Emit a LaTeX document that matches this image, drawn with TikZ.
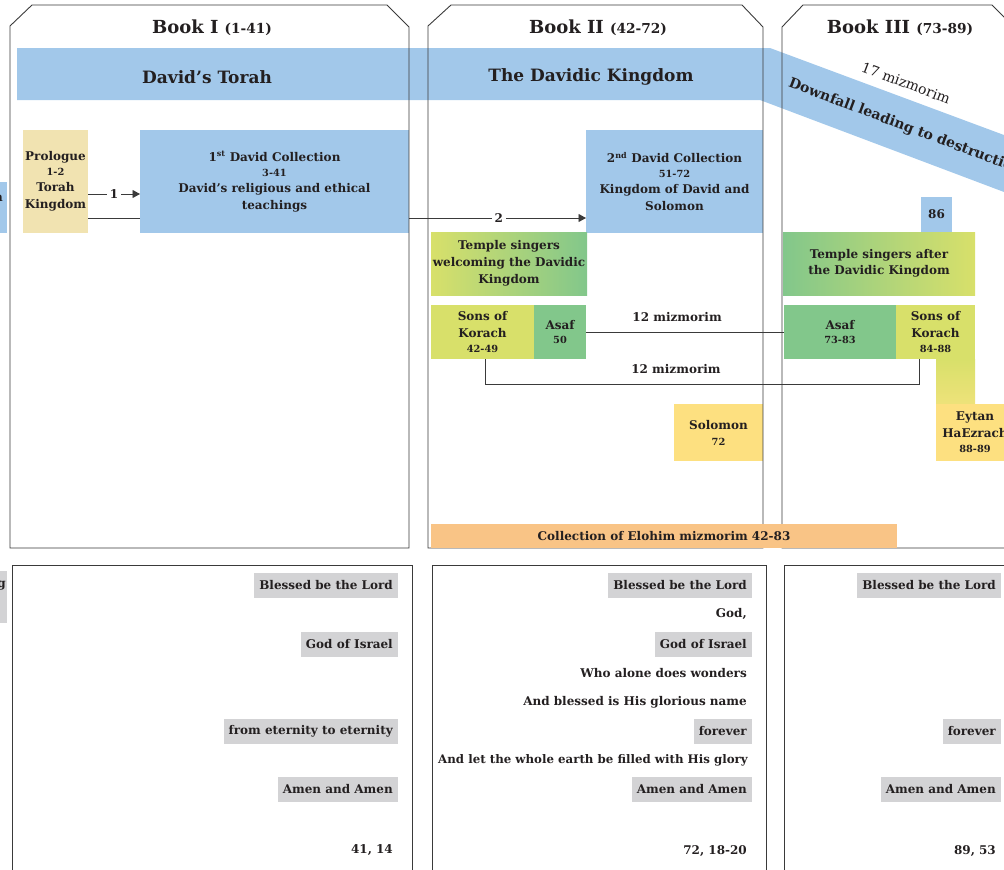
\documentclass[tikz,border=0pt]{standalone}
\usepackage{fontspec}
\setmainfont{DejaVu Serif}
\usetikzlibrary{arrows.meta}
\definecolor{ink}{HTML}{231F20}
\definecolor{cblue}{HTML}{A2C8EA}
\definecolor{ctan}{HTML}{F1E3B1}
\definecolor{cyg}{HTML}{D8E06A}
\definecolor{cyg2}{HTML}{EEE27A}
\definecolor{cgreen}{HTML}{82C78B}
\definecolor{cyellow}{HTML}{FDE080}
\definecolor{corange}{HTML}{F9C486}
\definecolor{cgray}{HTML}{D3D3D5}
\definecolor{cline}{HTML}{3A3A3A}
\pgfdeclarelayer{background}
\pgfsetlayers{background,main}
\newcommand{\bodyfont}{\bfseries\fontsize{12}{17}\selectfont}
\newcommand{\nums}[1]{{\fontsize{9.8}{12}\selectfont #1}}
\newcommand{\titnum}[1]{{\fontsize{13.7}{16}\selectfont #1}}
\begin{document}
\begin{tikzpicture}[x=1pt,y=-1pt,
  box/.style={inner sep=0pt,outer sep=0pt,align=center,text=ink,font=\bodyfont,anchor=north west},
  panel/.style={draw=cline,line width=0.9pt},
  conn/.style={draw=cline,line width=0.8pt},
  arr/.style={conn,-{Triangle[length=7.5pt,width=8pt]}},
  lbl/.style={text=ink,font=\bodyfont,inner sep=0pt},
  gbox/.style={fill=cgray,inner xsep=5pt,inner ysep=0pt,minimum height=25pt,anchor=east,text=ink,font=\bodyfont},
  ptext/.style={inner xsep=5pt,inner ysep=0pt,anchor=east,text=ink,font=\bodyfont},
  title/.style={text=ink,font=\bfseries\fontsize{18}{20}\selectfont},
  bandtxt/.style={text=ink,font=\bfseries\fontsize{17}{20}\selectfont}
]
\useasboundingbox (0,0) rectangle (1004,870);
\clip (0,0) rectangle (1004,870);

% blue band
\fill[cblue] (17,48) -- (770,48) -- (1104,172.2) -- (1104,229.7) -- (760,100) -- (17,100) -- cycle;
\node[bandtxt] (dtor) at (207,77) {David’s Torah};
\node[bandtxt] (dking) at (591,77) {The Davidic Kingdom};
\node[text=ink,font=\bfseries\fontsize{14}{16}\selectfont,rotate=-20.7,anchor=west,inner sep=0pt] (down) at (789,83) {Downfall leading to destruction};
\node[text=ink,font=\fontsize{14}{16}\selectfont,rotate=-20.7,inner sep=0pt] (m17) at (906,83) {17 mizmorim};

% left fragments
\node[box,fill=cblue,anchor=north east,minimum width=50pt,minimum height=51pt] (lfb) at (7,182) {};
\node[lbl,anchor=east] (lfbt) at (3,197) {h};
\node[box,fill=cgray,anchor=north east,minimum width=50pt,minimum height=52pt] (lfg) at (7,571) {};
\node[lbl,anchor=east] (lfgt) at (6,586) {g};

% boxes
\node[box,fill=ctan,minimum width=65pt,minimum height=103pt] (pro) at (23,130)
  {Prologue\\[-2pt]\nums{1-2}\\[-1pt]Torah\\Kingdom};
\node[box,fill=cblue,minimum width=269pt,minimum height=103pt] (dc1) at (140,130)
  {1\textsuperscript{st} David Collection\\[-2pt]\nums{3-41}\\[-1pt]David’s religious and ethical\\teachings};
\node[box,fill=cblue,minimum width=177pt,minimum height=103pt] (dc2) at (586,130)
  {2\textsuperscript{nd} David Collection\\[-2pt]\nums{51-72}\\[-1pt]Kingdom of David and\\Solomon};
\node[box,left color=cyg,right color=cgreen,minimum width=156pt,minimum height=63pt] (tsw) at (431,232)
  {Temple singers\\welcoming the Davidic\\Kingdom};
\node[box,fill=cyg,minimum width=103pt,minimum height=54pt] (sok2) at (431,305)
  {Sons of\\Korach\\[-2pt]\nums{42-49}};
\node[box,fill=cgreen,minimum width=52pt,minimum height=54pt] (asaf2) at (534,305)
  {Asaf\\[-3pt]\nums{50}};
\node[box,fill=cyellow,minimum width=89pt,minimum height=57pt] (sol) at (674,404)
  {Solomon\\[-1pt]\nums{72}};
\node[box,fill=cblue,minimum width=31pt,minimum height=35pt] (n86) at (921,197) {86};
\node[box,left color=cgreen,right color=cyg,minimum width=192pt,minimum height=63pt] (tsa) at (783,232)
  {Temple singers after\\[-1pt]the Davidic Kingdom};
\node[box,fill=cgreen,minimum width=112pt,minimum height=54pt] (asaf3) at (784,305)
  {Asaf\\[-3pt]\nums{73-83}};
\node[box,fill=cyg,minimum width=79pt,minimum height=54pt] (sok3) at (896,305)
  {Sons of\\Korach\\[-2pt]\nums{84-88}};
\shade[top color=cyg,bottom color=cyg2] (936,359) rectangle (975,405);
\node[box,fill=cyellow,minimum width=78pt,minimum height=57pt] (eyt) at (936,404)
  {Eytan\\HaEzrach\\[-2pt]\nums{88-89}};

% connectors
\draw[arr] (pro.east |- 0,194) -- node[fill=white,inner xsep=3pt,inner ysep=1pt,text=ink,font=\bodyfont]{1} (dc1.west |- 0,194);
\begin{pgfonlayer}{background}
\draw[arr] (pro.east |- 0,218) -- node[pos=0.825,fill=white,inner xsep=3pt,inner ysep=1pt,text=ink,font=\bodyfont]{2} (dc2.west |- 0,218);
\end{pgfonlayer}
\draw[conn] (asaf2.east) -- node[pos=0.46,above=10pt,lbl]{12 mizmorim} (asaf3.west);
\draw[conn] ([xshift=2.5pt]sok2.south) -- ++(0,25) -| node[pos=0.22,above=9.5pt,lbl]{12 mizmorim} ([xshift=-16.5pt]sok3.south);

% panels (top)
\draw[panel] (10,548) -- (10,26) -- (32,5) -- (387,5) -- (409,27) -- (409,548) -- cycle;
\draw[panel] (428,548) -- (428,26) -- (451,5) -- (742,5) -- (763,27) -- (763,548) -- cycle;
\draw[panel] (782,548) -- (782,27) -- (803,5) -- (992,5) -- (1014,27) -- (1014,548) -- cycle;
\node[title] (b1) at (212,27.5) {Book I \titnum{(1-41)}};
\node[title] (b2) at (598,27.5) {Book II \titnum{(42-72)}};
\node[title] (b3) at (900,27.5) {Book III \titnum{(73-89)}};

\node[box,fill=corange,minimum width=466pt,minimum height=24pt] (elo) at (431,524)
  {Collection of Elohim mizmorim 42-83};

% panels (bottom)
\draw[panel] (12,880) -- (12,565) -- (412,565) -- (412,880);
\draw[panel] (432,880) -- (432,565) -- (766,565) -- (766,880);
\draw[panel] (784,880) -- (784,565) -- (1020,565);

\node[gbox] (p1a) at (398,585.5) {Blessed be the Lord};
\node[gbox] (p1b) at (398,644.5) {God of Israel};
\node[gbox] (p1c) at (398,731.5) {from eternity to eternity};
\node[gbox] (p1d) at (398,789.5) {Amen and Amen};
\node[ptext] (p1e) at (398,850) {41, 14};

\node[gbox] (p2a) at (752,585.5) {Blessed be the Lord};
\node[ptext] (p2b) at (752,614) {God,};
\node[gbox] (p2c) at (752,644.5) {God of Israel};
\node[ptext] (p2d) at (752,673) {Who alone does wonders};
\node[ptext] (p2e) at (752,702) {And blessed is His glorious name};
\node[gbox] (p2f) at (752,731.5) {forever};
\node[ptext,inner xsep=4pt,font=\bfseries\fontsize{11.8}{17}\selectfont] (p2g) at (752,760) {And let the whole earth be filled with His glory};
\node[gbox] (p2h) at (752,789.5) {Amen and Amen};
\node[ptext] (p2i) at (752,851) {72, 18-20};

\node[gbox] (p3a) at (1001,585.5) {Blessed be the Lord};
\node[gbox] (p3b) at (1001,731.5) {forever};
\node[gbox] (p3c) at (1001,789.5) {Amen and Amen};
\node[ptext] (p3d) at (1001,851) {89, 53};
\end{tikzpicture}
\end{document}
